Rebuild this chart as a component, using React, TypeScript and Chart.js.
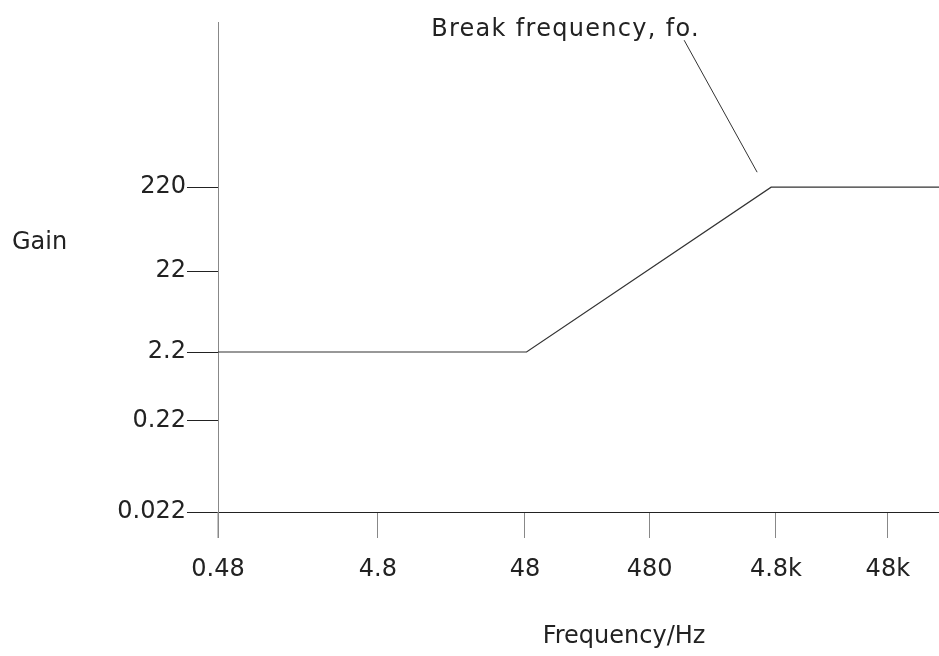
import React, { useEffect, useRef } from "react";
import { Chart, registerables } from "chart.js";

Chart.register(...registerables);

// Axis positions as drawn (hand-spaced decades)
const xTickPos = [0, 1, 1.92, 2.7, 3.49, 4.19];
const xTickLabels = ["0.48", "4.8", "48", "480", "4.8k", "48k"];
const xMax = 4.51;

const yTickPos = [0, 1.14, 2, 3.01, 4.06];
const yTickLabels = ["0.022", "0.22", "2.2", "22", "220"];
const yMax = 6.125;

// Gain curve (in axis positions)
const gainX = [0, 1.93, 3.46, 4.51];
const gainY = [2, 2, 4.06, 4.06];

const breakIndex = 2;
const annotationText = "Break frequency, fo.";
const xTitle = "Frequency/Hz";
const yTitle = "Gain";

const FONT = '"DejaVu Sans", sans-serif';

export default function App() {
  const ref = useRef<HTMLCanvasElement | null>(null);

  useEffect(() => {
    if (!ref.current) return;
    const overlay = {
      id: "overlay",
      afterDraw(chart: any) {
        const { ctx, chartArea, scales } = chart;
        const xs = scales.x;
        const ys = scales.y;
        ctx.save();
        // y axis extension below x axis
        ctx.strokeStyle = "#888";
        ctx.lineWidth = 1;
        ctx.beginPath();
        ctx.moveTo(chartArea.left, chartArea.bottom);
        ctx.lineTo(chartArea.left, chartArea.bottom + 26);
        ctx.stroke();

        // leader line to break point
        const bx = xs.getPixelForValue(gainX[breakIndex]);
        const by = ys.getPixelForValue(gainY[breakIndex]);
        ctx.strokeStyle = "#333";
        ctx.beginPath();
        ctx.moveTo(bx - 87, by - 147);
        ctx.lineTo(bx - 14, by - 15);
        ctx.stroke();

        ctx.fillStyle = "#222";
        ctx.font = `24px ${FONT}`;
        ctx.textBaseline = "middle";
        ctx.textAlign = "left";
        (ctx as any).letterSpacing = "1.3px";
        ctx.fillText(annotationText, bx - 340, by - 157);
        (ctx as any).letterSpacing = "0px";
        ctx.fillText(yTitle, 12, 243);
        ctx.textAlign = "center";
        ctx.fillText(xTitle, 624, 637);
        ctx.restore();
      },
    };

    const chart = new Chart(ref.current, {
      type: "line",
      data: {
        datasets: [
          {
            data: gainX.map((x, i) => ({ x, y: gainY[i] })),
            borderColor: "#333",
            borderWidth: 1.2,
            pointRadius: 0,
            tension: 0,
            fill: false,
          },
        ],
      },
      options: {
        animation: false,
        responsive: true,
        maintainAspectRatio: false,
        layout: { padding: { top: 22, right: 0, left: 0, bottom: 0 } },
        plugins: { legend: { display: false }, tooltip: { enabled: false } },
        scales: {
          x: {
            type: "linear",
            min: 0,
            max: xMax,
            afterBuildTicks: (s: any) => {
              s.ticks = xTickPos.map((v) => ({ value: v }));
            },
            afterFit: (s: any) => {
              s.height = 144;
            },
            ticks: {
              autoSkip: false,
              maxRotation: 0,
              padding: 17,
              color: "#222",
              font: { family: FONT, size: 24 },
              callback: (v: any) => xTickLabels[xTickPos.indexOf(v)],
            },
            grid: {
              drawOnChartArea: false,
              drawTicks: true,
              tickLength: 26,
              tickColor: "#888",
            },
            border: { display: true, color: "#222", width: 1 },
          },
          y: {
            type: "linear",
            min: 0,
            max: yMax,
            afterBuildTicks: (s: any) => {
              s.ticks = yTickPos.map((v) => ({ value: v }));
            },
            afterFit: (s: any) => {
              s.width = 218;
            },
            ticks: {
              autoSkip: false,
              padding: 1,
              color: "#222",
              font: { family: FONT, size: 24 },
              callback: (v: any) => yTickLabels[yTickPos.indexOf(v)],
            },
            grid: {
              drawOnChartArea: false,
              drawTicks: true,
              tickLength: 31,
              tickColor: "#222",
            },
            border: { display: true, color: "#888", width: 1 },
          },
        },
      },
      plugins: [overlay],
    });
    return () => chart.destroy();
  }, []);

  return (
    <div style={{ position: "fixed", left: 0, top: 0, width: 939, height: 656, background: "#fff" }}>
      <canvas ref={ref} />
    </div>
  );
}
